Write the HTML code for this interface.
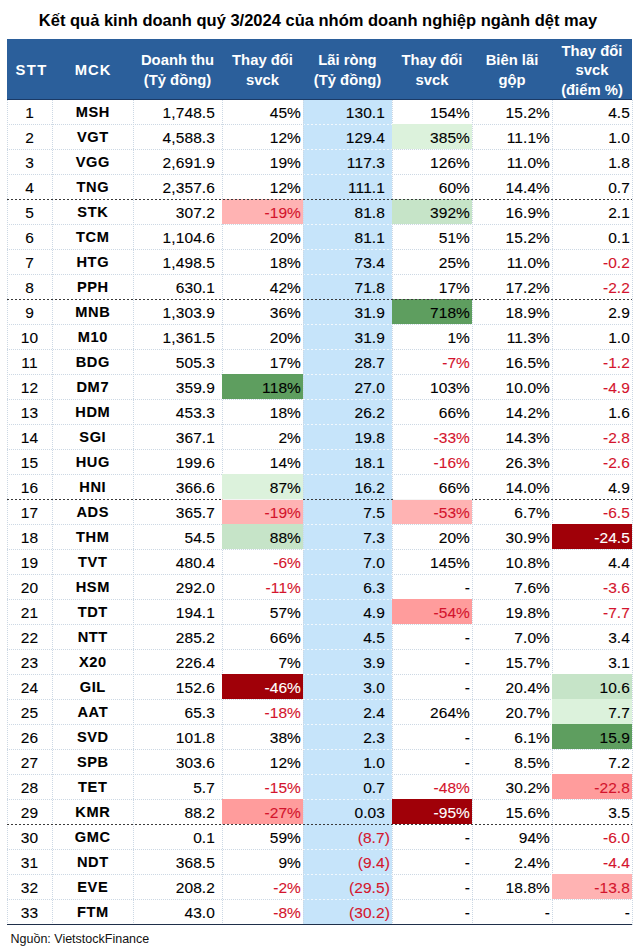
<!DOCTYPE html>
<html><head><meta charset="utf-8">
<style>
*{margin:0;padding:0;box-sizing:border-box}
html,body{width:640px;height:952px;background:#fff;overflow:hidden}
body{position:relative;font-family:"Liberation Sans",sans-serif;color:#000}
.t{position:absolute;left:-2px;width:640px;top:9.5px;text-align:center;font-weight:bold;font-size:16.5px;line-height:20px}
.hd{position:absolute;top:39px;left:7px;width:625px;height:61px;background:#2B5F9B;border-bottom:1px solid #1B3A66}
.hc{position:absolute;top:41.2px;height:60px;display:flex;align-items:center;justify-content:center;text-align:center;color:#fff;font-weight:bold;font-size:14.8px;line-height:19.7px}
.bl{position:absolute;left:303px;width:89px;top:100px;height:825px;background:#C6E4FA}
.f{position:absolute;height:25px}
.p1{background:#FFB3B3}.p2{background:#FF9C9C}.r3{background:#A00008}
.g1{background:#DCF2DC}.g2{background:#C6E4C8}.g3{background:#5E9E5F}
.hl{position:absolute;height:1px;background-image:repeating-linear-gradient(90deg,#CCD8E4 0 1px,transparent 1px 2px)}
.hb{position:absolute;left:303px;width:89px;height:1px;background-image:repeating-linear-gradient(90deg,#F2F8FD 0 2px,transparent 2px 4px)}
.gl{position:absolute;left:7px;width:625px;height:1px;background-image:repeating-linear-gradient(90deg,#3A3A3A 0 2px,transparent 2px 4px)}
.vl{position:absolute;top:100px;width:1px;height:825px;background-image:repeating-linear-gradient(180deg,#CCD8E4 0 1px,transparent 1px 2px)}
.bot{position:absolute;left:7px;width:625px;top:924px;height:1px;background:#1F2F4A}
.c{position:absolute;height:24px;line-height:26px;font-size:15.5px;letter-spacing:0.1px;white-space:nowrap;-webkit-text-stroke:0.1px currentColor}

.r{text-align:right}.m{text-align:center}
.b{font-weight:bold}
.neg{color:#D4142C}.wh{color:#fff}
.src{position:absolute;left:10.5px;top:931px;font-size:12.5px;line-height:16px;color:#111}
</style></head><body>

<div class="t">Kết quả kinh doanh quý 3/2024 của nhóm doanh nghiệp ngành dệt may</div>
<div class="hd"></div>
<div class="hc" style="left:7px;width:45px"><span style="letter-spacing:1.4px;padding-left:4px">STT</span></div>
<div class="hc" style="left:52px;width:81px"><span style="letter-spacing:1px;margin-right:-1px">MCK</span></div>
<div class="hc" style="left:133px;width:89px">Doanh thu<br>(Tỷ đồng)</div>
<div class="hc" style="left:222px;width:81px">Thay đổi<br>svck</div>
<div class="hc" style="left:303px;width:89px">Lãi ròng<br>(Tỷ đồng)</div>
<div class="hc" style="left:392px;width:80px">Thay đổi<br>svck</div>
<div class="hc" style="left:472px;width:80px">Biên lãi<br>gộp</div>
<div class="hc" style="left:552px;width:80px">Thay đổi<br>svck<br>(điểm %)</div>
<div class="bl"></div>
<div class="hl" style="top:124px;left:7px;width:296px"></div>
<div class="hl" style="top:124px;left:392px;width:240px"></div>
<div class="hb" style="top:124px"></div>
<div class="hl" style="top:149px;left:7px;width:296px"></div>
<div class="hl" style="top:149px;left:392px;width:240px"></div>
<div class="hb" style="top:149px"></div>
<div class="hl" style="top:174px;left:7px;width:296px"></div>
<div class="hl" style="top:174px;left:392px;width:240px"></div>
<div class="hb" style="top:174px"></div>
<div class="hl" style="top:224px;left:7px;width:296px"></div>
<div class="hl" style="top:224px;left:392px;width:240px"></div>
<div class="hb" style="top:224px"></div>
<div class="hl" style="top:249px;left:7px;width:296px"></div>
<div class="hl" style="top:249px;left:392px;width:240px"></div>
<div class="hb" style="top:249px"></div>
<div class="hl" style="top:274px;left:7px;width:296px"></div>
<div class="hl" style="top:274px;left:392px;width:240px"></div>
<div class="hb" style="top:274px"></div>
<div class="hl" style="top:324px;left:7px;width:296px"></div>
<div class="hl" style="top:324px;left:392px;width:240px"></div>
<div class="hb" style="top:324px"></div>
<div class="hl" style="top:349px;left:7px;width:296px"></div>
<div class="hl" style="top:349px;left:392px;width:240px"></div>
<div class="hb" style="top:349px"></div>
<div class="hl" style="top:374px;left:7px;width:296px"></div>
<div class="hl" style="top:374px;left:392px;width:240px"></div>
<div class="hb" style="top:374px"></div>
<div class="hl" style="top:399px;left:7px;width:296px"></div>
<div class="hl" style="top:399px;left:392px;width:240px"></div>
<div class="hb" style="top:399px"></div>
<div class="hl" style="top:424px;left:7px;width:296px"></div>
<div class="hl" style="top:424px;left:392px;width:240px"></div>
<div class="hb" style="top:424px"></div>
<div class="hl" style="top:449px;left:7px;width:296px"></div>
<div class="hl" style="top:449px;left:392px;width:240px"></div>
<div class="hb" style="top:449px"></div>
<div class="hl" style="top:474px;left:7px;width:296px"></div>
<div class="hl" style="top:474px;left:392px;width:240px"></div>
<div class="hb" style="top:474px"></div>
<div class="hl" style="top:524px;left:7px;width:296px"></div>
<div class="hl" style="top:524px;left:392px;width:240px"></div>
<div class="hb" style="top:524px"></div>
<div class="hl" style="top:549px;left:7px;width:296px"></div>
<div class="hl" style="top:549px;left:392px;width:240px"></div>
<div class="hb" style="top:549px"></div>
<div class="hl" style="top:574px;left:7px;width:296px"></div>
<div class="hl" style="top:574px;left:392px;width:240px"></div>
<div class="hb" style="top:574px"></div>
<div class="hl" style="top:599px;left:7px;width:296px"></div>
<div class="hl" style="top:599px;left:392px;width:240px"></div>
<div class="hb" style="top:599px"></div>
<div class="hl" style="top:624px;left:7px;width:296px"></div>
<div class="hl" style="top:624px;left:392px;width:240px"></div>
<div class="hb" style="top:624px"></div>
<div class="hl" style="top:649px;left:7px;width:296px"></div>
<div class="hl" style="top:649px;left:392px;width:240px"></div>
<div class="hb" style="top:649px"></div>
<div class="hl" style="top:674px;left:7px;width:296px"></div>
<div class="hl" style="top:674px;left:392px;width:240px"></div>
<div class="hb" style="top:674px"></div>
<div class="hl" style="top:699px;left:7px;width:296px"></div>
<div class="hl" style="top:699px;left:392px;width:240px"></div>
<div class="hb" style="top:699px"></div>
<div class="hl" style="top:724px;left:7px;width:296px"></div>
<div class="hl" style="top:724px;left:392px;width:240px"></div>
<div class="hb" style="top:724px"></div>
<div class="hl" style="top:749px;left:7px;width:296px"></div>
<div class="hl" style="top:749px;left:392px;width:240px"></div>
<div class="hb" style="top:749px"></div>
<div class="hl" style="top:774px;left:7px;width:296px"></div>
<div class="hl" style="top:774px;left:392px;width:240px"></div>
<div class="hb" style="top:774px"></div>
<div class="hl" style="top:799px;left:7px;width:296px"></div>
<div class="hl" style="top:799px;left:392px;width:240px"></div>
<div class="hb" style="top:799px"></div>
<div class="hl" style="top:849px;left:7px;width:296px"></div>
<div class="hl" style="top:849px;left:392px;width:240px"></div>
<div class="hb" style="top:849px"></div>
<div class="hl" style="top:874px;left:7px;width:296px"></div>
<div class="hl" style="top:874px;left:392px;width:240px"></div>
<div class="hb" style="top:874px"></div>
<div class="hl" style="top:899px;left:7px;width:296px"></div>
<div class="hl" style="top:899px;left:392px;width:240px"></div>
<div class="hb" style="top:899px"></div>
<div class="vl" style="left:7px"></div>
<div class="vl" style="left:52px"></div>
<div class="vl" style="left:133px"></div>
<div class="vl" style="left:222px"></div>
<div class="vl" style="left:303px"></div>
<div class="vl" style="left:392px"></div>
<div class="vl" style="left:472px"></div>
<div class="vl" style="left:552px"></div>
<div class="vl" style="left:632px"></div>
<div class="f p1" style="left:222px;width:81px;top:199px"></div>
<div class="f g3" style="left:222px;width:81px;top:374px"></div>
<div class="f g1" style="left:222px;width:81px;top:474px"></div>
<div class="f p1" style="left:222px;width:81px;top:499px"></div>
<div class="f g2" style="left:222px;width:81px;top:524px"></div>
<div class="f r3" style="left:222px;width:81px;top:674px"></div>
<div class="f p2" style="left:222px;width:81px;top:799px"></div>
<div class="f g1" style="left:392px;width:80px;top:124px"></div>
<div class="f g2" style="left:392px;width:80px;top:199px"></div>
<div class="f g3" style="left:392px;width:80px;top:299px"></div>
<div class="f p1" style="left:392px;width:80px;top:499px"></div>
<div class="f p2" style="left:392px;width:80px;top:599px"></div>
<div class="f r3" style="left:392px;width:80px;top:799px"></div>
<div class="f r3" style="left:552px;width:80px;top:524px"></div>
<div class="f g2" style="left:552px;width:80px;top:674px"></div>
<div class="f g1" style="left:552px;width:80px;top:699px"></div>
<div class="f g3" style="left:552px;width:80px;top:724px"></div>
<div class="f p2" style="left:552px;width:80px;top:774px"></div>
<div class="f p1" style="left:552px;width:80px;top:874px"></div>
<div class="gl" style="top:299px"></div>
<div class="gl" style="top:499px"></div>
<div class="gl" style="top:199px"></div>
<div class="gl" style="top:824px"></div>
<div style="position:absolute;left:223px;width:80px;top:499px;height:1px;background:#F4F4F4"></div>
<div style="position:absolute;left:393px;width:79px;top:499px;height:1px;background:#F4F4F4"></div>
<div class="bot"></div>
<div class="c m" style="left:7px;width:45px;top:100px;">1</div>
<div class="c m b" style="left:52px;width:81px;top:100px;letter-spacing:0.6px;font-size:14.6px;text-indent:0.6px;line-height:24.5px">MSH</div>
<div class="c r" style="left:133px;width:82px;top:100px">1,748.5</div>
<div class="c r" style="left:222px;width:79px;top:100px">45%</div>
<div class="c r" style="left:303px;width:82px;top:100px">130.1</div>
<div class="c r" style="left:392px;width:78px;top:100px">154%</div>
<div class="c r" style="left:472px;width:78px;top:100px">15.2%</div>
<div class="c r" style="left:552px;width:78px;top:100px">4.5</div>
<div class="c m" style="left:7px;width:45px;top:125px;">2</div>
<div class="c m b" style="left:52px;width:81px;top:125px;letter-spacing:0.6px;font-size:14.6px;text-indent:0.6px;line-height:24.5px">VGT</div>
<div class="c r" style="left:133px;width:82px;top:125px">4,588.3</div>
<div class="c r" style="left:222px;width:79px;top:125px">12%</div>
<div class="c r" style="left:303px;width:82px;top:125px">129.4</div>
<div class="c r" style="left:392px;width:78px;top:125px">385%</div>
<div class="c r" style="left:472px;width:78px;top:125px">11.1%</div>
<div class="c r" style="left:552px;width:78px;top:125px">1.0</div>
<div class="c m" style="left:7px;width:45px;top:150px;">3</div>
<div class="c m b" style="left:52px;width:81px;top:150px;letter-spacing:0.6px;font-size:14.6px;text-indent:0.6px;line-height:24.5px">VGG</div>
<div class="c r" style="left:133px;width:82px;top:150px">2,691.9</div>
<div class="c r" style="left:222px;width:79px;top:150px">19%</div>
<div class="c r" style="left:303px;width:82px;top:150px">117.3</div>
<div class="c r" style="left:392px;width:78px;top:150px">126%</div>
<div class="c r" style="left:472px;width:78px;top:150px">11.0%</div>
<div class="c r" style="left:552px;width:78px;top:150px">1.8</div>
<div class="c m" style="left:7px;width:45px;top:175px;">4</div>
<div class="c m b" style="left:52px;width:81px;top:175px;letter-spacing:0.6px;font-size:14.6px;text-indent:0.6px;line-height:24.5px">TNG</div>
<div class="c r" style="left:133px;width:82px;top:175px">2,357.6</div>
<div class="c r" style="left:222px;width:79px;top:175px">12%</div>
<div class="c r" style="left:303px;width:82px;top:175px">111.1</div>
<div class="c r" style="left:392px;width:78px;top:175px">60%</div>
<div class="c r" style="left:472px;width:78px;top:175px">14.4%</div>
<div class="c r" style="left:552px;width:78px;top:175px">0.7</div>
<div class="c m" style="left:7px;width:45px;top:200px;">5</div>
<div class="c m b" style="left:52px;width:81px;top:200px;letter-spacing:0.6px;font-size:14.6px;text-indent:0.6px;line-height:24.5px">STK</div>
<div class="c r" style="left:133px;width:82px;top:200px">307.2</div>
<div class="c r neg" style="left:222px;width:79px;top:200px">-19%</div>
<div class="c r" style="left:303px;width:82px;top:200px">81.8</div>
<div class="c r" style="left:392px;width:78px;top:200px">392%</div>
<div class="c r" style="left:472px;width:78px;top:200px">16.9%</div>
<div class="c r" style="left:552px;width:78px;top:200px">2.1</div>
<div class="c m" style="left:7px;width:45px;top:225px;">6</div>
<div class="c m b" style="left:52px;width:81px;top:225px;letter-spacing:0.6px;font-size:14.6px;text-indent:0.6px;line-height:24.5px">TCM</div>
<div class="c r" style="left:133px;width:82px;top:225px">1,104.6</div>
<div class="c r" style="left:222px;width:79px;top:225px">20%</div>
<div class="c r" style="left:303px;width:82px;top:225px">81.1</div>
<div class="c r" style="left:392px;width:78px;top:225px">51%</div>
<div class="c r" style="left:472px;width:78px;top:225px">15.2%</div>
<div class="c r" style="left:552px;width:78px;top:225px">0.1</div>
<div class="c m" style="left:7px;width:45px;top:250px;">7</div>
<div class="c m b" style="left:52px;width:81px;top:250px;letter-spacing:0.6px;font-size:14.6px;text-indent:0.6px;line-height:24.5px">HTG</div>
<div class="c r" style="left:133px;width:82px;top:250px">1,498.5</div>
<div class="c r" style="left:222px;width:79px;top:250px">18%</div>
<div class="c r" style="left:303px;width:82px;top:250px">73.4</div>
<div class="c r" style="left:392px;width:78px;top:250px">25%</div>
<div class="c r" style="left:472px;width:78px;top:250px">11.0%</div>
<div class="c r neg" style="left:552px;width:78px;top:250px">-0.2</div>
<div class="c m" style="left:7px;width:45px;top:275px;">8</div>
<div class="c m b" style="left:52px;width:81px;top:275px;letter-spacing:0.6px;font-size:14.6px;text-indent:0.6px;line-height:24.5px">PPH</div>
<div class="c r" style="left:133px;width:82px;top:275px">630.1</div>
<div class="c r" style="left:222px;width:79px;top:275px">42%</div>
<div class="c r" style="left:303px;width:82px;top:275px">71.8</div>
<div class="c r" style="left:392px;width:78px;top:275px">17%</div>
<div class="c r" style="left:472px;width:78px;top:275px">17.2%</div>
<div class="c r neg" style="left:552px;width:78px;top:275px">-2.2</div>
<div class="c m" style="left:7px;width:45px;top:300px;">9</div>
<div class="c m b" style="left:52px;width:81px;top:300px;letter-spacing:0.6px;font-size:14.6px;text-indent:0.6px;line-height:24.5px">MNB</div>
<div class="c r" style="left:133px;width:82px;top:300px">1,303.9</div>
<div class="c r" style="left:222px;width:79px;top:300px">36%</div>
<div class="c r" style="left:303px;width:82px;top:300px">31.9</div>
<div class="c r" style="left:392px;width:78px;top:300px">718%</div>
<div class="c r" style="left:472px;width:78px;top:300px">18.9%</div>
<div class="c r" style="left:552px;width:78px;top:300px">2.9</div>
<div class="c m" style="left:7px;width:45px;top:325px;">10</div>
<div class="c m b" style="left:52px;width:81px;top:325px;letter-spacing:0.6px;font-size:14.6px;text-indent:0.6px;line-height:24.5px">M10</div>
<div class="c r" style="left:133px;width:82px;top:325px">1,361.5</div>
<div class="c r" style="left:222px;width:79px;top:325px">20%</div>
<div class="c r" style="left:303px;width:82px;top:325px">31.9</div>
<div class="c r" style="left:392px;width:78px;top:325px">1%</div>
<div class="c r" style="left:472px;width:78px;top:325px">11.3%</div>
<div class="c r" style="left:552px;width:78px;top:325px">1.0</div>
<div class="c m" style="left:7px;width:45px;top:350px;">11</div>
<div class="c m b" style="left:52px;width:81px;top:350px;letter-spacing:0.6px;font-size:14.6px;text-indent:0.6px;line-height:24.5px">BDG</div>
<div class="c r" style="left:133px;width:82px;top:350px">505.3</div>
<div class="c r" style="left:222px;width:79px;top:350px">17%</div>
<div class="c r" style="left:303px;width:82px;top:350px">28.7</div>
<div class="c r neg" style="left:392px;width:78px;top:350px">-7%</div>
<div class="c r" style="left:472px;width:78px;top:350px">16.5%</div>
<div class="c r neg" style="left:552px;width:78px;top:350px">-1.2</div>
<div class="c m" style="left:7px;width:45px;top:375px;">12</div>
<div class="c m b" style="left:52px;width:81px;top:375px;letter-spacing:0.6px;font-size:14.6px;text-indent:0.6px;line-height:24.5px">DM7</div>
<div class="c r" style="left:133px;width:82px;top:375px">359.9</div>
<div class="c r" style="left:222px;width:79px;top:375px">118%</div>
<div class="c r" style="left:303px;width:82px;top:375px">27.0</div>
<div class="c r" style="left:392px;width:78px;top:375px">103%</div>
<div class="c r" style="left:472px;width:78px;top:375px">10.0%</div>
<div class="c r neg" style="left:552px;width:78px;top:375px">-4.9</div>
<div class="c m" style="left:7px;width:45px;top:400px;">13</div>
<div class="c m b" style="left:52px;width:81px;top:400px;letter-spacing:0.6px;font-size:14.6px;text-indent:0.6px;line-height:24.5px">HDM</div>
<div class="c r" style="left:133px;width:82px;top:400px">453.3</div>
<div class="c r" style="left:222px;width:79px;top:400px">18%</div>
<div class="c r" style="left:303px;width:82px;top:400px">26.2</div>
<div class="c r" style="left:392px;width:78px;top:400px">66%</div>
<div class="c r" style="left:472px;width:78px;top:400px">14.2%</div>
<div class="c r" style="left:552px;width:78px;top:400px">1.6</div>
<div class="c m" style="left:7px;width:45px;top:425px;">14</div>
<div class="c m b" style="left:52px;width:81px;top:425px;letter-spacing:0.6px;font-size:14.6px;text-indent:0.6px;line-height:24.5px">SGI</div>
<div class="c r" style="left:133px;width:82px;top:425px">367.1</div>
<div class="c r" style="left:222px;width:79px;top:425px">2%</div>
<div class="c r" style="left:303px;width:82px;top:425px">19.8</div>
<div class="c r neg" style="left:392px;width:78px;top:425px">-33%</div>
<div class="c r" style="left:472px;width:78px;top:425px">14.3%</div>
<div class="c r neg" style="left:552px;width:78px;top:425px">-2.8</div>
<div class="c m" style="left:7px;width:45px;top:450px;">15</div>
<div class="c m b" style="left:52px;width:81px;top:450px;letter-spacing:0.6px;font-size:14.6px;text-indent:0.6px;line-height:24.5px">HUG</div>
<div class="c r" style="left:133px;width:82px;top:450px">199.6</div>
<div class="c r" style="left:222px;width:79px;top:450px">14%</div>
<div class="c r" style="left:303px;width:82px;top:450px">18.1</div>
<div class="c r neg" style="left:392px;width:78px;top:450px">-16%</div>
<div class="c r" style="left:472px;width:78px;top:450px">26.3%</div>
<div class="c r neg" style="left:552px;width:78px;top:450px">-2.6</div>
<div class="c m" style="left:7px;width:45px;top:475px;">16</div>
<div class="c m b" style="left:52px;width:81px;top:475px;letter-spacing:0.6px;font-size:14.6px;text-indent:0.6px;line-height:24.5px">HNI</div>
<div class="c r" style="left:133px;width:82px;top:475px">366.6</div>
<div class="c r" style="left:222px;width:79px;top:475px">87%</div>
<div class="c r" style="left:303px;width:82px;top:475px">16.2</div>
<div class="c r" style="left:392px;width:78px;top:475px">66%</div>
<div class="c r" style="left:472px;width:78px;top:475px">14.0%</div>
<div class="c r" style="left:552px;width:78px;top:475px">4.9</div>
<div class="c m" style="left:7px;width:45px;top:500px;">17</div>
<div class="c m b" style="left:52px;width:81px;top:500px;letter-spacing:0.6px;font-size:14.6px;text-indent:0.6px;line-height:24.5px">ADS</div>
<div class="c r" style="left:133px;width:82px;top:500px">365.7</div>
<div class="c r neg" style="left:222px;width:79px;top:500px">-19%</div>
<div class="c r" style="left:303px;width:82px;top:500px">7.5</div>
<div class="c r neg" style="left:392px;width:78px;top:500px">-53%</div>
<div class="c r" style="left:472px;width:78px;top:500px">6.7%</div>
<div class="c r neg" style="left:552px;width:78px;top:500px">-6.5</div>
<div class="c m" style="left:7px;width:45px;top:525px;">18</div>
<div class="c m b" style="left:52px;width:81px;top:525px;letter-spacing:0.6px;font-size:14.6px;text-indent:0.6px;line-height:24.5px">THM</div>
<div class="c r" style="left:133px;width:82px;top:525px">54.5</div>
<div class="c r" style="left:222px;width:79px;top:525px">88%</div>
<div class="c r" style="left:303px;width:82px;top:525px">7.3</div>
<div class="c r" style="left:392px;width:78px;top:525px">20%</div>
<div class="c r" style="left:472px;width:78px;top:525px">30.9%</div>
<div class="c r wh" style="left:552px;width:78px;top:525px">-24.5</div>
<div class="c m" style="left:7px;width:45px;top:550px;">19</div>
<div class="c m b" style="left:52px;width:81px;top:550px;letter-spacing:0.6px;font-size:14.6px;text-indent:0.6px;line-height:24.5px">TVT</div>
<div class="c r" style="left:133px;width:82px;top:550px">480.4</div>
<div class="c r neg" style="left:222px;width:79px;top:550px">-6%</div>
<div class="c r" style="left:303px;width:82px;top:550px">7.0</div>
<div class="c r" style="left:392px;width:78px;top:550px">145%</div>
<div class="c r" style="left:472px;width:78px;top:550px">10.8%</div>
<div class="c r" style="left:552px;width:78px;top:550px">4.4</div>
<div class="c m" style="left:7px;width:45px;top:575px;">20</div>
<div class="c m b" style="left:52px;width:81px;top:575px;letter-spacing:0.6px;font-size:14.6px;text-indent:0.6px;line-height:24.5px">HSM</div>
<div class="c r" style="left:133px;width:82px;top:575px">292.0</div>
<div class="c r neg" style="left:222px;width:79px;top:575px">-11%</div>
<div class="c r" style="left:303px;width:82px;top:575px">6.3</div>
<div class="c r" style="left:392px;width:78px;top:575px">-</div>
<div class="c r" style="left:472px;width:78px;top:575px">7.6%</div>
<div class="c r neg" style="left:552px;width:78px;top:575px">-3.6</div>
<div class="c m" style="left:7px;width:45px;top:600px;">21</div>
<div class="c m b" style="left:52px;width:81px;top:600px;letter-spacing:0.6px;font-size:14.6px;text-indent:0.6px;line-height:24.5px">TDT</div>
<div class="c r" style="left:133px;width:82px;top:600px">194.1</div>
<div class="c r" style="left:222px;width:79px;top:600px">57%</div>
<div class="c r" style="left:303px;width:82px;top:600px">4.9</div>
<div class="c r neg" style="left:392px;width:78px;top:600px">-54%</div>
<div class="c r" style="left:472px;width:78px;top:600px">19.8%</div>
<div class="c r neg" style="left:552px;width:78px;top:600px">-7.7</div>
<div class="c m" style="left:7px;width:45px;top:625px;">22</div>
<div class="c m b" style="left:52px;width:81px;top:625px;letter-spacing:0.6px;font-size:14.6px;text-indent:0.6px;line-height:24.5px">NTT</div>
<div class="c r" style="left:133px;width:82px;top:625px">285.2</div>
<div class="c r" style="left:222px;width:79px;top:625px">66%</div>
<div class="c r" style="left:303px;width:82px;top:625px">4.5</div>
<div class="c r" style="left:392px;width:78px;top:625px">-</div>
<div class="c r" style="left:472px;width:78px;top:625px">7.0%</div>
<div class="c r" style="left:552px;width:78px;top:625px">3.4</div>
<div class="c m" style="left:7px;width:45px;top:650px;">23</div>
<div class="c m b" style="left:52px;width:81px;top:650px;letter-spacing:0.6px;font-size:14.6px;text-indent:0.6px;line-height:24.5px">X20</div>
<div class="c r" style="left:133px;width:82px;top:650px">226.4</div>
<div class="c r" style="left:222px;width:79px;top:650px">7%</div>
<div class="c r" style="left:303px;width:82px;top:650px">3.9</div>
<div class="c r" style="left:392px;width:78px;top:650px">-</div>
<div class="c r" style="left:472px;width:78px;top:650px">15.7%</div>
<div class="c r" style="left:552px;width:78px;top:650px">3.1</div>
<div class="c m" style="left:7px;width:45px;top:675px;">24</div>
<div class="c m b" style="left:52px;width:81px;top:675px;letter-spacing:0.6px;font-size:14.6px;text-indent:0.6px;line-height:24.5px">GIL</div>
<div class="c r" style="left:133px;width:82px;top:675px">152.6</div>
<div class="c r wh" style="left:222px;width:79px;top:675px">-46%</div>
<div class="c r" style="left:303px;width:82px;top:675px">3.0</div>
<div class="c r" style="left:392px;width:78px;top:675px">-</div>
<div class="c r" style="left:472px;width:78px;top:675px">20.4%</div>
<div class="c r" style="left:552px;width:78px;top:675px">10.6</div>
<div class="c m" style="left:7px;width:45px;top:700px;">25</div>
<div class="c m b" style="left:52px;width:81px;top:700px;letter-spacing:0.6px;font-size:14.6px;text-indent:0.6px;line-height:24.5px">AAT</div>
<div class="c r" style="left:133px;width:82px;top:700px">65.3</div>
<div class="c r neg" style="left:222px;width:79px;top:700px">-18%</div>
<div class="c r" style="left:303px;width:82px;top:700px">2.4</div>
<div class="c r" style="left:392px;width:78px;top:700px">264%</div>
<div class="c r" style="left:472px;width:78px;top:700px">20.7%</div>
<div class="c r" style="left:552px;width:78px;top:700px">7.7</div>
<div class="c m" style="left:7px;width:45px;top:725px;">26</div>
<div class="c m b" style="left:52px;width:81px;top:725px;letter-spacing:0.6px;font-size:14.6px;text-indent:0.6px;line-height:24.5px">SVD</div>
<div class="c r" style="left:133px;width:82px;top:725px">101.8</div>
<div class="c r" style="left:222px;width:79px;top:725px">38%</div>
<div class="c r" style="left:303px;width:82px;top:725px">2.3</div>
<div class="c r" style="left:392px;width:78px;top:725px">-</div>
<div class="c r" style="left:472px;width:78px;top:725px">6.1%</div>
<div class="c r" style="left:552px;width:78px;top:725px">15.9</div>
<div class="c m" style="left:7px;width:45px;top:750px;">27</div>
<div class="c m b" style="left:52px;width:81px;top:750px;letter-spacing:0.6px;font-size:14.6px;text-indent:0.6px;line-height:24.5px">SPB</div>
<div class="c r" style="left:133px;width:82px;top:750px">303.6</div>
<div class="c r" style="left:222px;width:79px;top:750px">12%</div>
<div class="c r" style="left:303px;width:82px;top:750px">1.0</div>
<div class="c r" style="left:392px;width:78px;top:750px">-</div>
<div class="c r" style="left:472px;width:78px;top:750px">8.5%</div>
<div class="c r" style="left:552px;width:78px;top:750px">7.2</div>
<div class="c m" style="left:7px;width:45px;top:775px;">28</div>
<div class="c m b" style="left:52px;width:81px;top:775px;letter-spacing:0.6px;font-size:14.6px;text-indent:0.6px;line-height:24.5px">TET</div>
<div class="c r" style="left:133px;width:82px;top:775px">5.7</div>
<div class="c r neg" style="left:222px;width:79px;top:775px">-15%</div>
<div class="c r" style="left:303px;width:82px;top:775px">0.7</div>
<div class="c r neg" style="left:392px;width:78px;top:775px">-48%</div>
<div class="c r" style="left:472px;width:78px;top:775px">30.2%</div>
<div class="c r neg" style="left:552px;width:78px;top:775px">-22.8</div>
<div class="c m" style="left:7px;width:45px;top:800px;">29</div>
<div class="c m b" style="left:52px;width:81px;top:800px;letter-spacing:0.6px;font-size:14.6px;text-indent:0.6px;line-height:24.5px">KMR</div>
<div class="c r" style="left:133px;width:82px;top:800px">88.2</div>
<div class="c r neg" style="left:222px;width:79px;top:800px">-27%</div>
<div class="c r" style="left:303px;width:82px;top:800px">0.03</div>
<div class="c r wh" style="left:392px;width:78px;top:800px">-95%</div>
<div class="c r" style="left:472px;width:78px;top:800px">15.6%</div>
<div class="c r" style="left:552px;width:78px;top:800px">3.5</div>
<div class="c m" style="left:7px;width:45px;top:825px;">30</div>
<div class="c m b" style="left:52px;width:81px;top:825px;letter-spacing:0.6px;font-size:14.6px;text-indent:0.6px;line-height:24.5px">GMC</div>
<div class="c r" style="left:133px;width:82px;top:825px">0.1</div>
<div class="c r" style="left:222px;width:79px;top:825px">59%</div>
<div class="c r neg" style="left:303px;width:87px;top:825px">(8.7)</div>
<div class="c r" style="left:392px;width:78px;top:825px">-</div>
<div class="c r" style="left:472px;width:78px;top:825px">94%</div>
<div class="c r neg" style="left:552px;width:78px;top:825px">-6.0</div>
<div class="c m" style="left:7px;width:45px;top:850px;">31</div>
<div class="c m b" style="left:52px;width:81px;top:850px;letter-spacing:0.6px;font-size:14.6px;text-indent:0.6px;line-height:24.5px">NDT</div>
<div class="c r" style="left:133px;width:82px;top:850px">368.5</div>
<div class="c r" style="left:222px;width:79px;top:850px">9%</div>
<div class="c r neg" style="left:303px;width:87px;top:850px">(9.4)</div>
<div class="c r" style="left:392px;width:78px;top:850px">-</div>
<div class="c r" style="left:472px;width:78px;top:850px">2.4%</div>
<div class="c r neg" style="left:552px;width:78px;top:850px">-4.4</div>
<div class="c m" style="left:7px;width:45px;top:875px;">32</div>
<div class="c m b" style="left:52px;width:81px;top:875px;letter-spacing:0.6px;font-size:14.6px;text-indent:0.6px;line-height:24.5px">EVE</div>
<div class="c r" style="left:133px;width:82px;top:875px">208.2</div>
<div class="c r neg" style="left:222px;width:79px;top:875px">-2%</div>
<div class="c r neg" style="left:303px;width:87px;top:875px">(29.5)</div>
<div class="c r" style="left:392px;width:78px;top:875px">-</div>
<div class="c r" style="left:472px;width:78px;top:875px">18.8%</div>
<div class="c r neg" style="left:552px;width:78px;top:875px">-13.8</div>
<div class="c m" style="left:7px;width:45px;top:900px;">33</div>
<div class="c m b" style="left:52px;width:81px;top:900px;letter-spacing:0.6px;font-size:14.6px;text-indent:0.6px;line-height:24.5px">FTM</div>
<div class="c r" style="left:133px;width:82px;top:900px">43.0</div>
<div class="c r neg" style="left:222px;width:79px;top:900px">-8%</div>
<div class="c r neg" style="left:303px;width:87px;top:900px">(30.2)</div>
<div class="c r" style="left:392px;width:78px;top:900px">-</div>
<div class="c r" style="left:472px;width:78px;top:900px">-</div>
<div class="c r" style="left:552px;width:78px;top:900px">-</div>
<div class="src">Nguồn: VietstockFinance</div>
</body></html>
